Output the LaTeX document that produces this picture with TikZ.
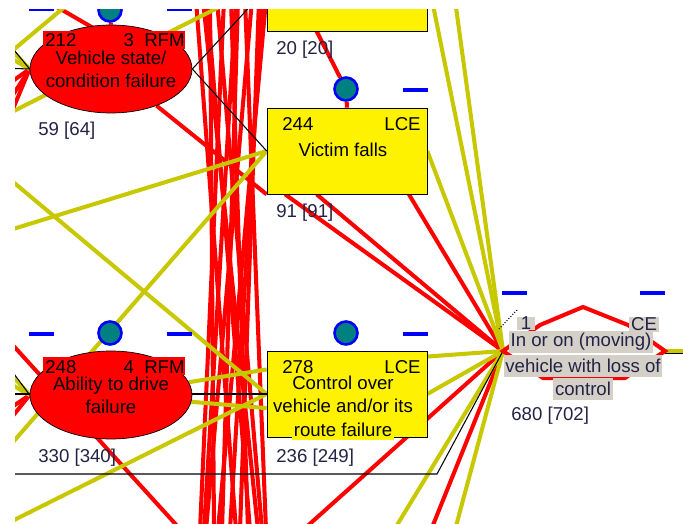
\documentclass[tikz,border=0pt]{standalone}
\usepackage{fontspec}
\setmainfont{Liberation Sans}
\usetikzlibrary{shapes.geometric,backgrounds}
\definecolor{olivey}{RGB}{200,200,0}
\definecolor{knobfill}{RGB}{0,128,128}
\definecolor{facegray}{RGB}{212,208,200}
\definecolor{numtext}{RGB}{35,35,70}

\begin{document}
\begin{tikzpicture}[x=0.02cm,y=-0.02cm,font=\fontsize{10.6}{13}\selectfont,
every node/.style={inner sep=0pt},
rfm/.style={ellipse, draw, fill=red, minimum width=3.24cm, minimum height=1.76cm},
lce/.style={draw, fill=yellow, minimum width=3.2cm, minimum height=1.72cm},
tag/.style={fill=red, minimum width=2.84cm, minimum height=0.36cm},
knob/.style={circle, draw=blue, fill=knobfill, line width=1.5pt, minimum size=0.46cm},
flag/.style={blue, line width=2pt},
rl/.style={red, line width=2.3pt},
yl/.style={olivey, line width=2.3pt},
kl/.style={black, line width=0.6pt},
count/.style={anchor=west, text=numtext},
face/.style={fill=facegray, text=numtext, inner xsep=1pt, minimum height=0.44cm}]

\useasboundingbox (0,0) rectangle (683,524);
\clip (15,9) rectangle (683,524);

\node[rfm] (vsf) at (111,69) {};
\node[tag] (vsftag) at (114,40) {};
\node[anchor=west] (vsfnum) at (45,40) {212};
\node[anchor=east] (vsfkind) at (185,40) {3\ \ RFM};
\node[align=center] (vsftext) at (111,69) {Vehicle state/\\condition failure};
\node[knob] (vdot) at (110,10) {};
\node[count] (vsfcount) at (38,131) {59 [64]};

\node[lce] (topbox) at (347,-12) {};
\node[count] (topcount) at (276,50) {20 [20]};

\node[lce] (falls) at (347,151) {};
\node[anchor=west] (fallsnum) at (282,124) {244};
\node[anchor=east] (fallskind) at (421,124) {LCE};
\node (fallstext) at (343,150) {Victim falls};
\node[knob] (fdot) at (346,89) {};
\node[count] (fallscount) at (276,213) {91 [91]};

\node[rfm] (abl) at (111,395) {};
\node[tag] (abltag) at (114,366) {};
\node[anchor=west] (ablnum) at (45,367) {248};
\node[anchor=east] (ablkind) at (185,367) {4\ \ RFM};
\node[align=center] (abltext) at (111,395) {Ability to drive\\failure};
\node[knob] (adot) at (110,333) {};
\node[count] (ablcount) at (38,458) {330 [340]};

\node[lce] (ctl) at (347,394) {};
\node[anchor=west] (ctlnum) at (282,367) {278};
\node[anchor=east] (ctlkind) at (421,367) {LCE};
\node[align=center] (ctltext) at (343,394.5) {Control over\\vehicle and/or its};
\node[fill=yellow, inner xsep=1pt, inner ysep=2.3pt, anchor=base] (ctlrest) at (343,436) {route failure};
\node[knob] (cdot) at (346,333) {};
\node[count] (ctlcount) at (276,458) {236 [249]};

\coordinate (ce) at (503,351);
\coordinate (ceR) at (665,351);
\coordinate (ceout) at (690,351);
\draw[rl] (ce) -- (540,325) -- (583,307) -- (628,325) -- (ceR) -- (625,378) -- (543,378) -- cycle;
\node[face, minimum height=0.27cm, inner xsep=2pt] (ceno) at (526,323.5) {1};
\node[face, minimum height=0.3cm, inner xsep=1pt] (cekind) at (644,324) {CE};
\node[face] (ceA) at (581,342) {In or on (moving)};
\node[face] (ceB) at (583,365.5) {vehicle with loss of};
\node[face] (ceC) at (583,389) {control};
\node[count] (cecount) at (511,416) {680 [702]};

\foreach \x/\y in {29/9,167/9,403/90,29/334,167/334,403/334,502/293,640/293}
  \draw[flag] (\x,\y) -- ++(25,0);

\begin{scope}[on background layer]
\clip (15,9) rectangle (683,524);
\foreach \a/\b [count=\i] in {196/236,203/258,210/214,217/262,224/200,231/248,238/222,245/266,252/206,259/240,266/218,207/250,236/204,262/230}{
  \coordinate (bt\i) at (\a,0);
  \coordinate (bb\i) at (\b,530);
  \draw[rl] (bt\i) -- (bb\i);
}
\foreach \y [count=\i] in {90,115,140}{
  \coordinate (vw\i) at (0,\y);
  \draw[rl] (vw\i) -- (vsf.west);
}
\foreach \y [count=\i] in {415,432}{
  \coordinate (aw\i) at (0,\y);
  \draw[rl] (aw\i) -- (abl.west);
}
\foreach \y [count=\i] in {38,52}{
  \coordinate (vy\i) at (0,\y);
  \draw[yl] (vy\i) -- (vsf.west);
}
\foreach \y [count=\i] in {362,378}{
  \coordinate (ay\i) at (0,\y);
  \draw[yl] (ay\i) -- (abl.west);
}
\coordinate (rt1) at (45,0);
\coordinate (rw1) at (0,331);
\coordinate (rb1) at (303,530);
\coordinate (rb2) at (431,530);
\coordinate (rb3) at (190,540);
\coordinate (up1) at (432,0);
\coordinate (up2) at (455,0);
\coordinate (yb1) at (394,530);
\coordinate (yb2) at (455,530);
\coordinate (yw1) at (0,233);
\coordinate (yw2) at (0,457);
\coordinate (yw3) at (0,171);
\coordinate (yw4) at (0,527);
\coordinate (yw5) at (0,118);
\coordinate (yt1) at (233,0);
\coordinate (yw6) at (0,61);
\coordinate (yt2) at (73,0);
\coordinate (kw1) at (0,68);
\coordinate (kw2) at (0,394);
\coordinate (kw3) at (0,474);
\coordinate (kw4) at (0,33);
\coordinate (kw5) at (0,355);
\coordinate (kt1) at (256,0);
\coordinate (bend) at (437,474);
\coordinate (tk1) at (517,310);
\coordinate (tk2) at (499,329);

\draw[rl] (rt1) -- (vsftag);
\draw[rl] (vsf) -- (falls.south west);
\draw[rl] (topbox.235) -- (fdot) -- (falls.north);
\draw[rl] (vdot) -- (vsf.north);
\draw[rl] (falls.235) -- (ce);
\draw[rl] (falls.215) -- (ce);
\draw[rl] (falls.325) -- (ce);
\draw[rl] (ce) -- (rb1);
\draw[rl] (ce) -- (rb2);
\draw[rl] (rw1) -- (rb3);

\draw[yl] (yw5) -- (yt1);
\draw[yl] (yw6) -- (yt2);
\draw[yl] (up1) -- (ce);
\draw[yl] (up2) -- (ce);
\draw[yl] (falls.east) -- (ce);
\draw[yl] (yw1) -- (falls.west);
\draw[yl] (yw2) -- (falls.west);
\draw[yl] (yw3) -- (ctl.west);
\draw[yl] (yw4) -- (ctl.west);
\draw[yl] (abl) -- (ctl.163);
\draw[yl] (abl) -- (ctl.190);
\draw[yl] (ctl.25) -- (ce);
\draw[yl] (ctl.east) -- (ce);
\draw[yl] (ce) -- (yb1);
\draw[yl] (ce) -- (yb2);
\draw[yl] (ceR) -- (ceout);

\draw[kl] (kw1) -- (vsf.west);
\draw[kl] (kw4) -- (vsf.west);
\draw[kl] (kw5) -- (abl.west);
\draw[kl] (vsf.east) -- (falls.west);
\draw[kl] (vsf.east) -- (kt1);
\draw[kl] (kw2) -- (ctl.west);
\draw[kl] (kw3) -- (bend) -- (ce);
\draw[kl, densely dotted] (tk1) -- (tk2);
\draw[kl] ([yshift=-1.5pt]ceR) -- ([yshift=-1.5pt]ceout);
\end{scope}
\end{tikzpicture}
\end{document}
